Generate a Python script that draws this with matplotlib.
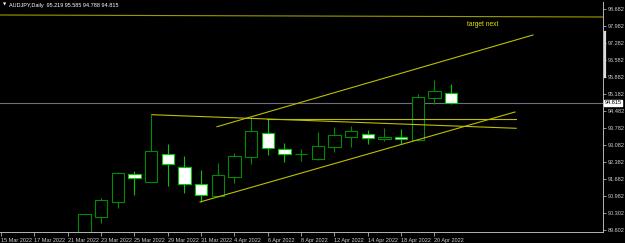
import matplotlib
matplotlib.use("Agg")
import matplotlib.pyplot as plt
import matplotlib.transforms as mtrans
from matplotlib.patches import Rectangle
from matplotlib.lines import Line2D

plt.rcParams['font.family'] = ['Liberation Sans Narrow', 'Liberation Sans', 'DejaVu Sans']

# trading days on the time axis
days = ["15 Mar 2022", "16 Mar 2022", "17 Mar 2022", "18 Mar 2022", "21 Mar 2022",
        "22 Mar 2022", "23 Mar 2022", "24 Mar 2022", "25 Mar 2022", "28 Mar 2022",
        "29 Mar 2022", "30 Mar 2022", "31 Mar 2022", "1 Apr 2022", "4 Apr 2022",
        "5 Apr 2022", "6 Apr 2022", "7 Apr 2022", "8 Apr 2022", "11 Apr 2022",
        "12 Apr 2022", "13 Apr 2022", "14 Apr 2022", "15 Apr 2022", "18 Apr 2022",
        "19 Apr 2022", "20 Apr 2022", "21 Apr 2022"]

# candles visible on the chart, 22 Mar .. 21 Apr
first_bar = 5
opens = [89.30, 90.135, 90.752, 91.892, 91.575, 92.703, 92.192, 91.468, 90.987, 91.756,
         92.579, 93.579, 92.921, 92.700, 92.497, 92.991, 93.402, 93.538, 93.332, 93.402,
         93.291, 95.032, 95.219]
highs = [90.246, 90.917, 91.962, 92.015, 94.320, 93.126, 92.633, 92.056, 92.332, 92.744,
         94.238, 94.155, 93.180, 92.908, 93.608, 93.814, 93.867, 93.703, 93.773, 93.731,
         95.172, 95.760, 95.585]
lows = [89.20, 89.888, 90.480, 91.028, 91.550, 91.410, 91.122, 90.752, 90.960, 91.534,
        92.303, 92.674, 92.398, 92.427, 92.480, 92.810, 93.015, 93.126, 93.262, 93.126,
        93.260, 94.760, 94.788]
closes = [90.246, 90.822, 91.921, 91.740, 92.851, 92.291, 91.480, 91.040, 91.838, 92.645,
          93.661, 92.949, 92.715, 92.720, 93.032, 93.484, 93.661, 93.361, 93.402, 93.332,
          95.081, 95.295, 94.815]

price_ticks = [98.682, 97.982, 97.282, 96.582, 95.882, 95.182, 94.482, 93.782, 93.082,
               92.382, 91.682, 90.982, 90.302, 89.602]
price_labels = ["98.682", "97.982", "97.282", "96.582", "95.882", "95.182", "94.482",
                "93.782", "93.082", "92.382", "91.682", "90.982", "90.302", "89.602"]
last_price = 94.815

# drawn trendlines (bar index, price)
top_x, top_y = [-0.06, 36.11], [98.435, 98.353]
upper_x, upper_y = [12.96, 31.91], [93.838, 97.612]
lower_x, lower_y = [11.94, 30.83], [90.740, 94.443]
res_x, res_y = [9.04, 30.9], [94.332, 93.773]
flat_x, flat_y = [15.96, 30.9], [94.155, 94.155]

fig = plt.figure(figsize=(6.25, 2.43), dpi=100, facecolor='black')
ax = fig.add_axes([0, 11 / 243, 603 / 625, 230 / 243])
ax.set_facecolor('black')

#candles
for k in range(len(opens)):
    x = first_bar + k
    o, h, l, c = opens[k], highs[k], lows[k], closes[k]
    bull = c >= o
    edge = '#008C00' if bull else '#00C800'
    face = 'black' if bull else 'white'
    ax.vlines(x, l, h, color=edge, lw=0.8, zorder=2)
    ax.add_patch(Rectangle((x - 0.37, min(o, c)), 0.74, max(abs(c - o), 0.01),
                           facecolor=face, edgecolor=edge, lw=0.8, zorder=3))

# trendlines
ax.plot(top_x, top_y, color='#9A9A00', lw=0.8, zorder=4)
for lx, ly in [(upper_x, upper_y), (lower_x, lower_y), (res_x, res_y), (flat_x, flat_y)]:
    ax.plot(lx, ly, color='#BEBE00', lw=0.8, zorder=4)

ax.axhline(last_price, color='#6E6E7C', lw=0.8, zorder=1)
ax.text(27.95, 98.024, "target next", color='#E6E600', fontsize=4.8, ha='left', va='center')

ax.set_xlim(-0.06, 36.11)
ax.set_ylim(89.505, 98.97)

ax.set_xticks(range(0, len(days), 2))
ax.set_xticklabels(days[::2], ha='left')
ax.yaxis.tick_right()
ax.set_yticks(price_ticks)
ax.set_yticklabels(price_labels)
ax.tick_params(axis='x', colors='#B4B4B4', labelcolor='#D0D0D0', labelsize=4, length=3, width=0.6, pad=1)
ax.tick_params(axis='y', colors='#B4B4B4', labelcolor='#D0D0D0', labelsize=4, length=2.5, width=0.6, pad=1)
for s in ['top', 'left']:
    ax.spines[s].set_visible(False)
for s in ['right', 'bottom']:
    ax.spines[s].set_color('#B4B4B4')
    ax.spines[s].set_linewidth(0.7)

# last price box on the scale
tr = mtrans.blended_transform_factory(ax.transAxes, ax.transData)
ax.text(1.003, last_price, "94.815", transform=tr, fontsize=4, color='black', ha='left', va='center',
        clip_on=False, zorder=6, bbox=dict(facecolor='white', edgecolor='white', pad=0.4))

# scroll marker on the price scale
fig.add_artist(Line2D([604.5 / 625, 604.5 / 625], [1 - 32 / 243, 1 - 77 / 243],
                      color='#DCDCDC', lw=1.6))

fig.text(3 / 625, 1 - 5 / 243, "▼", color='white', fontsize=3, ha='left', va='center',
         family=['DejaVu Sans'])
fig.text(9 / 625, 1 - 5 / 243, "AUDJPY,Daily  95.219 95.585 94.788 94.815", color='white',
         fontsize=4, ha='left', va='center')

fig.savefig("out.png", dpi=100, facecolor='black')
